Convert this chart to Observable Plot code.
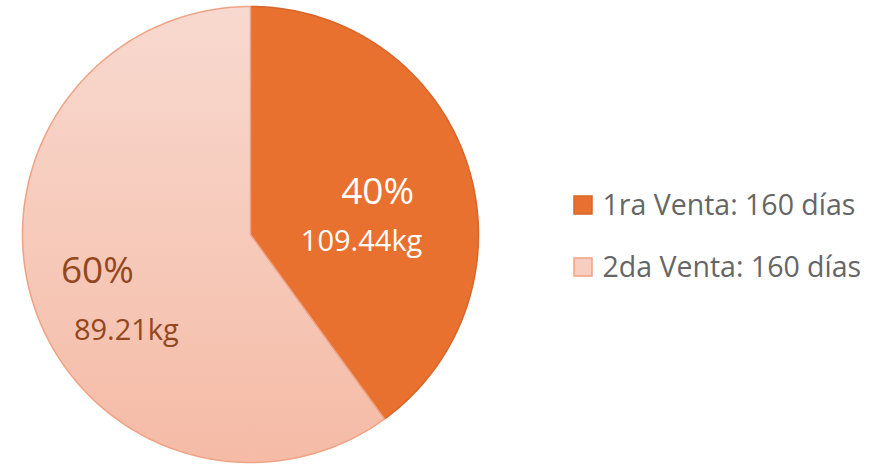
<!DOCTYPE html>
<html>
<head>
<meta charset="utf-8">
<script src="https://cdn.jsdelivr.net/npm/d3@7"></script>
<script src="https://cdn.jsdelivr.net/npm/@observablehq/plot@0.6"></script>
<style>
  html, body { margin: 0; padding: 0; background: #fff; }
  #chart svg { display: block; }
</style>
</head>
<body>
<div id="chart"></div>
<script>
// ---- data ----
const categories = ["1ra Venta: 160 días", "2da Venta: 160 días"];
const percents = [40, 60];
const kgLabels = ["109.44kg", "89.21kg"];

// ---- layout constants ----
const W = 884, H = 464;
const cx = 250, cy = 234, R = 228;
const fills = ["#E8712F", "url(#lightGrad)"];
const strokes = ["#D8652A", "#EFA384"];
const labelColors = ["#FFFFFF", "#93471E"];
// per-slice label offsets (pixels), relative to point at 0.6R on mid-angle
const pctOffset = [[-3, 0], [-23, -6]];
const kgOffset = [[-19, 49], [6, 54]];

const pie = d3.pie().sort(null).value(d => d)(percents);

// polygon points for each slice
const slicePts = [];
pie.forEach((p, i) => {
  const steps = 180;
  slicePts.push({i, x: cx, y: cy});
  for (let k = 0; k <= steps; k++) {
    const a = p.startAngle + (p.endAngle - p.startAngle) * k / steps;
    slicePts.push({i, x: cx + R * Math.sin(a), y: cy - R * Math.cos(a)});
  }
  slicePts.push({i, x: cx, y: cy});
});

const labels = pie.map((p, i) => {
  const a = (p.startAngle + p.endAngle) / 2;
  const x0 = cx + 0.6 * R * Math.sin(a), y0 = cy - 0.6 * R * Math.cos(a);
  return {i, pct: percents[i] + "%", kg: kgLabels[i],
    px: x0 + pctOffset[i][0], py: y0 + pctOffset[i][1],
    kx: x0 + kgOffset[i][0], ky: y0 + kgOffset[i][1]};
});

const legend = categories.map((c, i) => ({i, c, x: 583, y: 205 + i * 62}));

const font = "'Open Sans', Roboto, sans-serif";

const marks = [];
pie.forEach((p, i) => {
  marks.push(Plot.line(slicePts.filter(d => d.i === i), {
    x: "x", y: "y", fill: fills[i], stroke: strokes[i], strokeWidth: 1.5, curve: "linear-closed"
  }));
});
[0, 1].forEach(i => {
  const L = labels.filter(d => d.i === i);
  marks.push(Plot.text(L, {x: "px", y: "py", text: "pct", fill: labelColors[i], fontSize: 37, textAnchor: "middle", lineAnchor: "middle"}));
  marks.push(Plot.text(L, {x: "kx", y: "ky", text: "kg", fill: labelColors[i], fontSize: 29, textAnchor: "middle", lineAnchor: "middle"}));
});
marks.push(Plot.rect(legend.filter(d => d.i === 0), {x1: d => d.x - 9, x2: d => d.x + 9, y1: d => d.y - 9, y2: d => d.y + 9, fill: "#E8712F", stroke: "#D8652A", strokeWidth: 1.5}));
marks.push(Plot.rect(legend.filter(d => d.i === 1), {x1: d => d.x - 9, x2: d => d.x + 9, y1: d => d.y - 9, y2: d => d.y + 9, fill: "#F7CFC1", stroke: "#EFA384", strokeWidth: 1.5}));
marks.push(Plot.text(legend, {x: d => d.x + 19, y: "y", text: "c", fill: "#666666", fontSize: 28.5, textAnchor: "start", lineAnchor: "middle"}));

const chart = Plot.plot({
  width: W, height: H,
  margin: 0,
  x: {domain: [0, W], range: [0, W], axis: null},
  y: {domain: [0, H], range: [0, H], axis: null},
  style: {fontFamily: font, background: "#fff"},
  marks
});

// gradient for the light slice
const svg = d3.select(chart);
const defs = svg.insert("defs", ":first-child");
const g = defs.append("linearGradient").attr("id", "lightGrad")
  .attr("gradientUnits", "userSpaceOnUse")
  .attr("x1", 0).attr("y1", cy - R).attr("x2", 0).attr("y2", cy + R);
g.append("stop").attr("offset", "0%").attr("stop-color", "#F8D9CF");
g.append("stop").attr("offset", "100%").attr("stop-color", "#F5BBA6");

document.getElementById("chart").appendChild(chart);
</script>
</body>
</html>
